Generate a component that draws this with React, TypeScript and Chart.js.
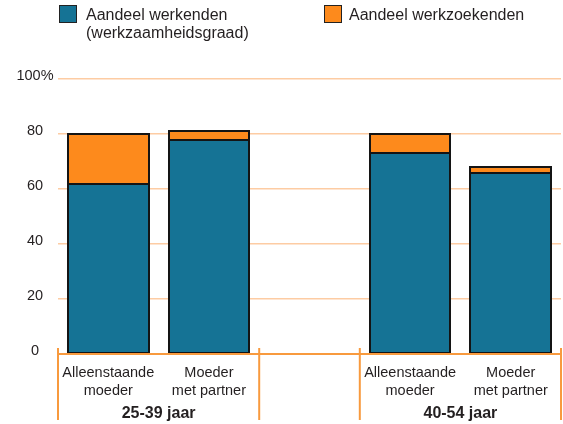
import { useEffect, useRef } from "react";
import { Chart, registerables } from "chart.js";

Chart.register(...registerables);

// Categories: two age groups, each with two household types, split by an empty slot.
const categories: string[][] = [
  ["Alleenstaande", "moeder"],
  ["Moeder", "met partner"],
  [""],
  ["Alleenstaande", "moeder"],
  ["Moeder", "met partner"],
];
const ageGroups = ["25-39 jaar", "40-54 jaar"];
const ageGroupSlots = [
  [0, 1],
  [3, 4],
];

// Percentages (stacked)
const working: (number | null)[] = [62, 78, null, 73, 66];
const seeking: (number | null)[] = [18, 3, null, 7, 2];

const yTickLabels = ["0", "20", "40", "60", "80", "100%"];
const yTickValues = [0, 20, 40, 60, 80, 100];

const seriesNames: string[][] = [
  ["Aandeel werkenden", "(werkzaamheidsgraad)"],
  ["Aandeel werkzoekenden"],
];

const TEAL = "#157395";
const ORANGE = "#fd8a1c";
const AXIS_ORANGE = "#f89a3e";
const GRID_ORANGE = "#fdcca3";
const TEXT = "#231f20";
const EDGE = "#141414";
const FONT = "'Liberation Sans', Arial, Helvetica, sans-serif";

// Outline every stacked segment with a crisp dark edge.
const segmentOutlines = {
  id: "segmentOutlines",
  afterDatasetsDraw(chart: Chart) {
    const ctx = chart.ctx;
    ctx.save();
    ctx.strokeStyle = EDGE;
    ctx.lineWidth = 2;
    chart.data.datasets.forEach((_, di) => {
      const meta = chart.getDatasetMeta(di);
      meta.data.forEach((el: any, i: number) => {
        const v = chart.data.datasets[di].data[i];
        if (v === null || v === undefined) return;
        const p = el.getProps(["x", "y", "base", "width"], true);
        const left = Math.round(p.x - p.width / 2);
        const right = Math.round(p.x + p.width / 2);
        const top = Math.round(Math.min(p.y, p.base));
        const bottom = Math.round(Math.max(p.y, p.base));
        ctx.strokeRect(left, top, right - left, bottom - top);
      });
    });
    ctx.restore();
  },
};

const decorations = {
  id: "decorations",
  afterDraw(chart: Chart) {
    const ctx = chart.ctx;
    const x = chart.scales.x;
    const y = chart.scales.y;
    const area = chart.chartArea;
    const slot = (x.right - x.left) / categories.length;
    const zeroY = y.getPixelForValue(0);

    ctx.save();

    // Baseline
    ctx.strokeStyle = AXIS_ORANGE;
    ctx.lineWidth = 2;
    ctx.beginPath();
    ctx.moveTo(area.left, zeroY);
    ctx.lineTo(area.right, zeroY);
    ctx.stroke();

    // Group dividers
    const dividers: number[] = [];
    ageGroupSlots.forEach(([a, b]) => {
      dividers.push(x.getPixelForValue(a) - slot / 2);
      dividers.push(x.getPixelForValue(b) + slot / 2);
    });
    dividers.forEach((dx) => {
      ctx.beginPath();
      ctx.moveTo(dx, zeroY - 6);
      ctx.lineTo(dx, chart.height - 4);
      ctx.stroke();
    });

    // Category labels
    ctx.fillStyle = TEXT;
    ctx.textAlign = "center";
    ctx.textBaseline = "middle";
    ctx.font = `14.5px ${FONT}`;
    categories.forEach((lines, i) => {
      const cx = x.getPixelForValue(i);
      lines.forEach((line, j) => {
        ctx.fillText(line, cx, zeroY + 19 + j * 18);
      });
    });

    // Age group labels
    ctx.font = `bold 16px ${FONT}`;
    ageGroupSlots.forEach(([a, b], i) => {
      const cx = (x.getPixelForValue(a) + x.getPixelForValue(b)) / 2;
      ctx.fillText(ageGroups[i], cx, zeroY + 60);
    });

    // Y tick labels
    ctx.font = `14.5px ${FONT}`;
    yTickValues.forEach((v, i) => {
      ctx.fillText(yTickLabels[i], 35, y.getPixelForValue(v) - 3);
    });

    // Legend
    const swatches = [
      { color: TEAL, box: 59, text: 86 },
      { color: ORANGE, box: 324, text: 349 },
    ];
    ctx.font = `16px ${FONT}`;
    ctx.textAlign = "left";
    swatches.forEach((s, i) => {
      ctx.fillStyle = s.color;
      ctx.fillRect(s.box, 5, 18, 18);
      ctx.strokeStyle = "#222";
      ctx.lineWidth = 1;
      ctx.strokeRect(s.box + 0.5, 5.5, 17, 17);
      ctx.fillStyle = TEXT;
      seriesNames[i].forEach((line, j) => {
        ctx.fillText(line, s.text, 16 + j * 18);
      });
    });

    ctx.restore();
  },
};

export default function App() {
  const canvasRef = useRef<HTMLCanvasElement | null>(null);

  useEffect(() => {
    if (!canvasRef.current) return;
    const chart = new Chart(canvasRef.current, {
      type: "bar",
      data: {
        labels: categories.map((c) => c.join(" ")),
        datasets: [
          {
            label: seriesNames[0].join(" "),
            data: working,
            backgroundColor: TEAL,
            borderWidth: 0,
          },
          {
            label: seriesNames[1].join(" "),
            data: seeking,
            backgroundColor: ORANGE,
            borderWidth: 0,
          },
        ],
      },
      options: {
        animation: false,
        responsive: false,
        maintainAspectRatio: false,
        layout: { padding: { left: 58, right: 2, top: 79, bottom: 70 } },
        datasets: {
          bar: { barPercentage: 0.8, categoryPercentage: 1.0 },
        },
        plugins: {
          legend: { display: false },
          tooltip: { enabled: false },
        },
        scales: {
          x: {
            stacked: true,
            display: false,
          },
          y: {
            stacked: true,
            min: 0,
            max: 100,
            ticks: { display: false, stepSize: 20 },
            border: { display: false },
            grid: {
              drawTicks: false,
              lineWidth: 1.5,
              color: (c) => (c.tick && c.tick.value === 0 ? "rgba(0,0,0,0)" : GRID_ORANGE),
            },
            afterFit: (scale) => {
              scale.width = 0;
            },
          },
        },
      },
      plugins: [segmentOutlines, decorations],
    });
    return () => chart.destroy();
  }, []);

  return (
    <div style={{ position: "fixed", left: 0, top: 0, width: 563, height: 424, background: "#fff" }}>
      <canvas ref={canvasRef} width={563} height={424} style={{ display: "block" }} />
    </div>
  );
}
